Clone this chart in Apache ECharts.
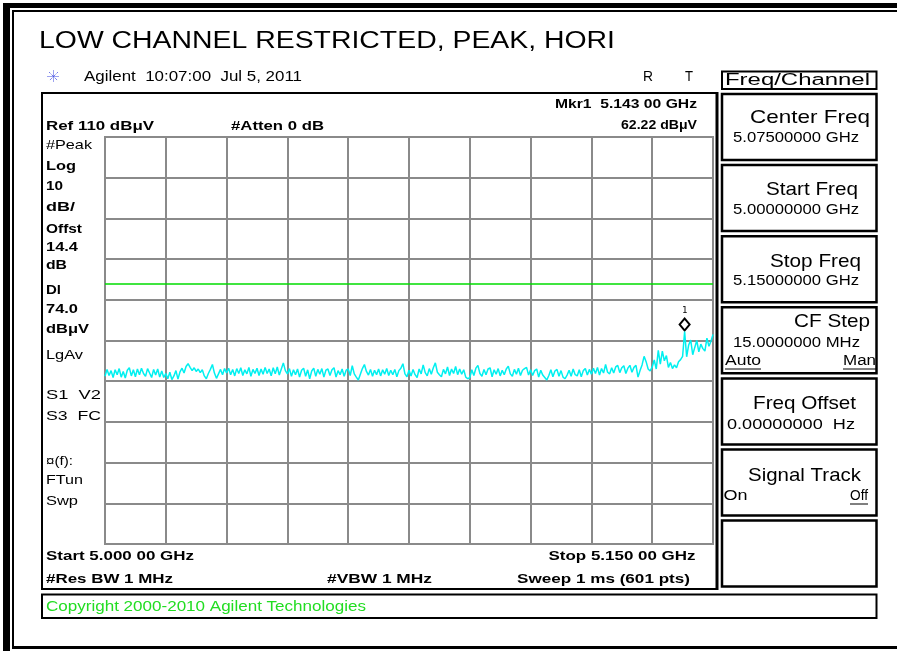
<!DOCTYPE html>
<html><head><meta charset="utf-8">
<script src="https://cdn.jsdelivr.net/npm/echarts@6/dist/echarts.min.js"></script>
<style>html,body{margin:0;padding:0;background:#fff}#c{width:897px;height:651px}</style>
</head><body><div id="c"></div>
<script>
// ---- data ----
const startMHz = 5000, stopMHz = 5150;
const refLevel = 110, bottomLevel = 10, dbPerDiv = 10, freqPerDiv = 15;
const displayLine = 74.0;
const markerFreqMHz = 5143.0, markerLevel = 62.22;
// trace levels in dBuV, one every 0.5 MHz from 5000 to 5150 MHz
const levels = [
 51.2,52.9,51.4,52.6,50.9,52.8,51.6,53.1,51.0,52.4,50.8,52.7,53.3,51.3,52.8,51.1,53.0,51.6,53.2,51.9,51.2,53.1,52.0,50.9,52.9,51.5,53.0,51.0,52.5,50.9,
 51.9,50.6,52.2,50.4,51.3,52.6,50.5,52.3,53.2,52.0,53.6,54.3,53.4,52.6,53.3,52.4,53.0,52.1,52.8,51.3,50.6,51.9,52.9,54.1,52.0,50.7,51.8,52.9,51.6,53.1,
 52.0,53.2,51.6,52.9,51.3,53.1,51.9,53.3,51.4,52.8,51.8,53.4,51.2,52.9,51.9,53.2,51.4,53.0,51.7,53.4,51.9,53.0,51.3,53.3,51.8,53.5,51.5,53.0,54.5,52.6,
 51.8,53.1,51.2,52.8,51.6,53.0,51.0,52.7,53.2,51.2,52.8,50.6,52.5,53.2,51.2,52.9,51.7,53.1,51.0,52.7,53.0,51.4,52.8,53.3,51.0,52.6,51.6,53.0,51.2,52.7,
 53.0,51.4,53.8,51.8,51.0,50.3,51.7,53.1,54.1,52.4,51.5,52.9,51.2,52.7,51.6,53.0,51.3,52.8,51.7,53.1,51.4,52.7,51.6,52.9,51.1,52.6,53.2,54.3,51.8,51.1,
 52.7,51.3,52.9,51.6,50.9,53.0,51.8,54.0,52.1,51.3,53.1,51.7,53.3,54.5,52.2,51.6,51.1,52.9,51.8,53.5,51.4,53.0,51.9,53.6,51.6,53.0,51.7,52.8,51.0,50.6,
 50.9,52.8,51.4,53.2,53.9,51.9,51.2,52.9,51.6,53.0,53.3,51.1,52.8,51.7,53.1,51.3,52.7,51.6,53.0,53.7,51.8,51.2,52.9,51.7,53.2,51.4,52.7,53.1,53.4,51.5,
 52.8,51.4,52.6,53.0,51.0,52.7,51.5,50.9,50.3,51.4,52.8,51.1,52.5,52.9,51.2,52.6,51.0,50.6,51.5,52.7,51.2,53.0,51.6,51.3,52.8,51.1,52.6,53.1,51.5,52.9,
 51.7,53.2,51.9,53.4,51.5,53.1,52.0,54.1,52.2,51.8,53.3,52.0,53.5,53.9,52.1,53.3,53.8,51.9,53.2,53.9,52.2,53.4,53.9,51.0,52.6,54.0,56.1,54.8,53.0,52.5,
 53.5,55.2,53.0,57.6,54.2,57.4,55.0,56.3,53.4,54.6,53.1,54.0,53.3,54.8,55.3,56.1,62.22,56.0,58.9,60.1,56.5,58.3,60.0,57.2,59.1,58.0,57.4,60.6,58.6,59.8,61.5
];

// ---- layout / styling ----
const FAM = "'Liberation Sans', Arial, sans-serif";
const mctx = document.createElement('canvas').getContext('2d');
function T(str, x, y, size, opt) {
  opt = opt || {};
  const font = (opt.bold ? 'bold ' : '') + size + 'px ' + FAM;
  mctx.font = font;
  const w = mctx.measureText(str).width;
  const sx = opt.w ? opt.w / w : 1;
  const al = opt.align || 'left';
  return { type: 'text', x: x, y: y, scaleX: sx, silent: true, z: 100,
    style: { text: str, x: 0, y: 0, font: font, fill: opt.color || '#000',
      textAlign: al, align: al, textVerticalAlign: 'middle', verticalAlign: 'middle' } };
}
function R(x, y, w, h, lw, fill) {
  return { type: 'rect', silent: true, z: 90, shape: { x: x, y: y, width: w, height: h },
    style: { fill: fill || 'none', stroke: fill ? 'none' : '#000', lineWidth: lw || 2 } };
}
function L(x1, y1, x2, y2, lw, color, dash) {
  return { type: 'line', silent: true, z: 95, shape: { x1: x1, y1: y1, x2: x2, y2: y2 },
    style: { stroke: color || '#000', lineWidth: lw || 1, lineDash: dash || null } };
}

const step = (stopMHz - startMHz) / (levels.length - 1);
const seriesData = levels.map((v, i) => [i * step, v]);

const g = [];
// outer frame
g.push(R(3, 3, 7, 648, 0, '#000'));
g.push(R(3, 3, 894, 5, 0, '#000'));
g.push(L(13, 10, 13, 649, 2));
g.push(L(12, 11, 897, 11, 2));
g.push(L(12, 647.5, 897, 647.5, 3));
// title and header
g.push(T('LOW CHANNEL RESTRICTED, PEAK, HORI', 39, 42, 23, { w: 576 }));
// agilent icon
const cx = 53.5, cy = 76.5, rr = 6;
for (let k = 0; k < 4; k++) {
  const a = k * Math.PI / 4;
  g.push(L(cx - rr * Math.cos(a), cy - rr * Math.sin(a), cx + rr * Math.cos(a), cy + rr * Math.sin(a), 1, '#3a46e0', [1, 1]));
}
g.push(T('Agilent  10:07:00  Jul 5, 2011', 84, 77, 14, { w: 218 }));
g.push(T('R', 643, 77, 14, { w: 10 }));
g.push(T('T', 685, 77, 14, { w: 8 }));
g.push(R(722, 71.5, 154.5, 17.5, 2));
g.push(T('Freq/Channel', 725, 80.5, 16, { w: 145 }));
// main screen box
g.push(R(42, 93, 674.5, 496, 2));
g.push(L(717.5, 92, 717.5, 590, 2));
// copyright box
g.push(R(42, 594.5, 834.5, 23.5, 2));
g.push(T('Copyright 2000-2010 Agilent Technologies', 46, 607.5, 14, { w: 320, color: '#22dd22' }));
// annotations in main box
g.push(T('Ref 110 dB\u03bcV', 46, 126, 13, { bold: true, w: 108 }));
g.push(T('#Atten 0 dB', 231, 126, 13, { bold: true, w: 93 }));
g.push(T('Mkr1  5.143 00 GHz', 697, 104, 13, { bold: true, w: 142, align: 'right' }));
g.push(T('62.22 dB\u03bcV', 697, 125, 13, { bold: true, w: 76, align: 'right' }));
const leftLbl = [
  ['#Peak', 145, false, 46], ['Log', 166.7, true, 30], ['10', 186.7, true, 17], ['dB/', 207.7, true, 29],
  ['Offst', 229, true, 36], ['14.4', 247, true, 32], ['dB', 265.7, true, 21], ['Dl', 290.7, true, 15],
  ['74.0', 309, true, 32], ['dB\u03bcV', 329, true, 43], ['LgAv', 355.7, false, 37],
  ['S1  V2', 395, false, 55], ['S3  FC', 416.7, false, 55], ['\u00a4(f):', 461, false, 27],
  ['FTun', 480.7, false, 37], ['Swp', 501.7, false, 32]
];
leftLbl.forEach(a => g.push(T(a[0], 46, a[1], 13, { bold: a[2], w: a[3] })));
g.push(T('Start 5.000 00 GHz', 46, 556.5, 13, { bold: true, w: 148 }));
g.push(T('#Res BW 1 MHz', 46, 579, 13, { bold: true, w: 127 }));
g.push(T('#VBW 1 MHz', 327, 579, 13, { bold: true, w: 105 }));
g.push(T('Stop 5.150 00 GHz', 695.5, 556.5, 13, { bold: true, w: 147, align: 'right' }));
g.push(T('Sweep 1 ms (601 pts)', 690, 579, 13, { bold: true, w: 173, align: 'right' }));
// softkeys
for (let i = 0; i < 7; i++) g.push(R(722, 94 + i * 71.1, 154.5, 66, 2.5));
g.push(T('Center Freq', 870, 118, 19, { w: 120, align: 'right' }));
g.push(T('5.07500000 GHz', 733, 138.5, 14, { w: 126 }));
g.push(T('Start Freq', 858, 190, 19, { w: 92, align: 'right' }));
g.push(T('5.00000000 GHz', 733, 210, 14, { w: 126 }));
g.push(T('Stop Freq', 861, 261.5, 19, { w: 91, align: 'right' }));
g.push(T('5.15000000 GHz', 733, 281, 14, { w: 126 }));
g.push(T('CF Step', 870, 322, 19, { w: 76, align: 'right' }));
g.push(T('15.0000000 MHz', 733, 343.5, 14, { w: 127 }));
g.push(T('Auto', 725, 361.5, 14, { w: 36 }));
g.push(L(725, 369, 761, 369, 1));
g.push(T('Man', 876, 361.5, 14, { w: 33, align: 'right' }));
g.push(L(843, 369, 876, 369, 1));
g.push(T('Freq Offset', 856, 404, 19, { w: 103, align: 'right' }));
g.push(T('0.00000000  Hz', 727, 425, 14, { w: 128 }));
g.push(T('Signal Track', 861, 476, 19, { w: 113, align: 'right' }));
g.push(T('On', 723.5, 496.5, 14, { w: 24 }));
g.push(T('Off', 868, 496.5, 14, { w: 18, align: 'right' }));
g.push(L(850, 504, 868, 504, 1));

const chart = echarts.init(document.getElementById('c'), null, { renderer: 'canvas' });
chart.setOption({
  animation: false,
  backgroundColor: '#fff',
  grid: { left: 105, top: 137, width: 608, height: 407, show: true, borderColor: '#8a8a8a', borderWidth: 2, containLabel: false },
  xAxis: { type: 'value', min: 0, max: stopMHz - startMHz, interval: freqPerDiv,
    axisLine: { show: false }, axisTick: { show: false }, axisLabel: { show: false },
    splitLine: { show: true, lineStyle: { color: '#8a8a8a', width: 2 } } },
  yAxis: { type: 'value', min: bottomLevel, max: refLevel, interval: dbPerDiv,
    axisLine: { show: false }, axisTick: { show: false }, axisLabel: { show: false },
    splitLine: { show: true, lineStyle: { color: '#8a8a8a', width: 2 } } },
  series: [{
    type: 'line', data: seriesData, showSymbol: false, symbol: 'none', clip: true,
    lineStyle: { color: '#00f0f0', width: 1.5 }, z: 5,
    markLine: { silent: true, symbol: ['none', 'none'], label: { show: false }, animation: false, z: 6,
      lineStyle: { color: '#00dd00', width: 1.5, type: 'solid', opacity: 1 }, data: [{ yAxis: displayLine }] },
    markPoint: { silent: true, symbol: 'diamond', symbolSize: [10, 12], symbolOffset: [0, -7], animation: false,
      itemStyle: { color: '#fff', borderColor: '#000', borderWidth: 2 },
      label: { show: true, position: 'top', distance: 2, formatter: '1', color: '#000', fontSize: 9, fontFamily: 'DejaVu Sans Mono' },
      data: [{ coord: [markerFreqMHz - startMHz, markerLevel] }] }
  }],
  graphic: { elements: g }
});
</script></body></html>
